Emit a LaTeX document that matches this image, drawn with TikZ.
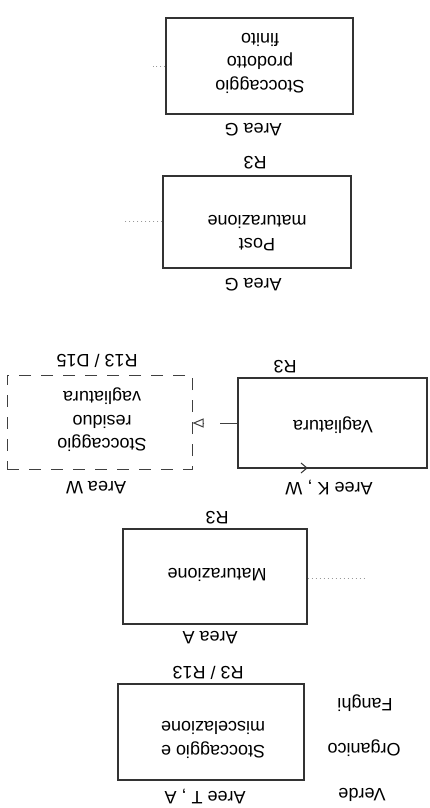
\documentclass[tikz,border=0pt]{standalone}
\usepackage{fontspec}
\setmainfont{Liberation Sans}
\newfontfamily\arialfont{Liberation Sans}
\usetikzlibrary{arrows.meta}
\begin{document}
\begin{tikzpicture}[x=1pt,y=-1pt,
  txt/.style={rotate=180, inner sep=0pt, align=center, text=black,
    font=\arialfont\fontsize{18}{23.5}\selectfont},
  box/.style={draw=black!80, line width=1.1pt, rectangle, inner sep=0pt},
  dbox/.style={draw=black!75, line width=1pt, rectangle, inner sep=0pt,
    dash pattern=on 12pt off 10pt},
  faint/.style={draw=black!40, line width=0.7pt, dash pattern=on 1.5pt off 2.5pt}
]
\useasboundingbox (0,0) rectangle (429,808);
\fill[white] (0,0) rectangle (429,808);

% boxes
\node[box, minimum width=187pt, minimum height=96pt] (spf) at (259.5,66) {};
\node[box, minimum width=188pt, minimum height=92pt] (pm) at (257,222) {};
\node[box, minimum width=189pt, minimum height=90pt] (vag) at (332.5,423) {};
\node[dbox, minimum width=185pt, minimum height=94pt] (srv) at (99.5,422) {};
\node[box, minimum width=184pt, minimum height=95pt] (mat) at (215,576.5) {};
\node[box, minimum width=186pt, minimum height=96pt] (sem) at (211,732) {};

% texts in boxes
\node[txt] (tspf) at (260,63) {Stoccaggio\\prodotto\\finito};
\node[txt] (tpm) at (257,233) {Post\\maturazione};
\node[txt] (tvag) at (333,425) {Vagliatura};
\node[txt] (tsrv) at (102,420) {Stoccaggio\\residuo\\vagliatura};
\node[txt] (tmat) at (217,575) {Maturazione};
\node[txt] (tsem) at (213,740) {Stoccaggio e\\miscelazione};

% labels
\node[txt] (ag1) at (253,130) {Area G};
\node[txt] (r3a) at (255,163) {R3};
\node[txt] (ag2) at (253,285) {Area G};
\node[txt] (rd) at (97,361) {R13 / D15};
\node[txt] (aw) at (96,488) {Area W};
\node[txt] (r3b) at (285,367) {R3};
\node[txt] (akw) at (329,488) {Aree K , W};
\node[txt] (r3c) at (217,518) {R3};
\node[txt] (aa) at (210,638) {Area A};
\node[txt] (rr) at (208,673) {R3 / R13};
\node[txt] (ata) at (205,797) {Aree T , A};
\node[txt] (fan) at (365,703) {Fanghi};
\node[txt] (org) at (364,748) {Organico};
\node[txt] (ver) at (362,795) {Verde};

% dashed arrow Vagliatura -> Stoccaggio residuo
\draw[black!75, line width=1pt, dash pattern=on 17pt off 16pt,
  -{Triangle[open, length=11pt, width=9pt, line width=1pt]}]
  (vag.west) -- (vag.west -| srv.east);

% small chevron on Vagliatura bottom edge
\coordinate (ch) at (307,468);
\draw[black!80, line width=1pt] ([shift={(-6,-5)}]ch) -- (ch) -- ([shift={(-6,5)}]ch);

% faint remnants of connectors
\coordinate (pmL) at (125,221);
\coordinate (matR) at (367,578);
\draw[faint] (pm.west |- pmL) -- (pmL);
\draw[faint] (mat.east |- matR) -- (matR);
\coordinate (spfL) at (153,66);
\draw[faint] (spf.west |- spfL) -- (spfL);
\end{tikzpicture}
\end{document}
